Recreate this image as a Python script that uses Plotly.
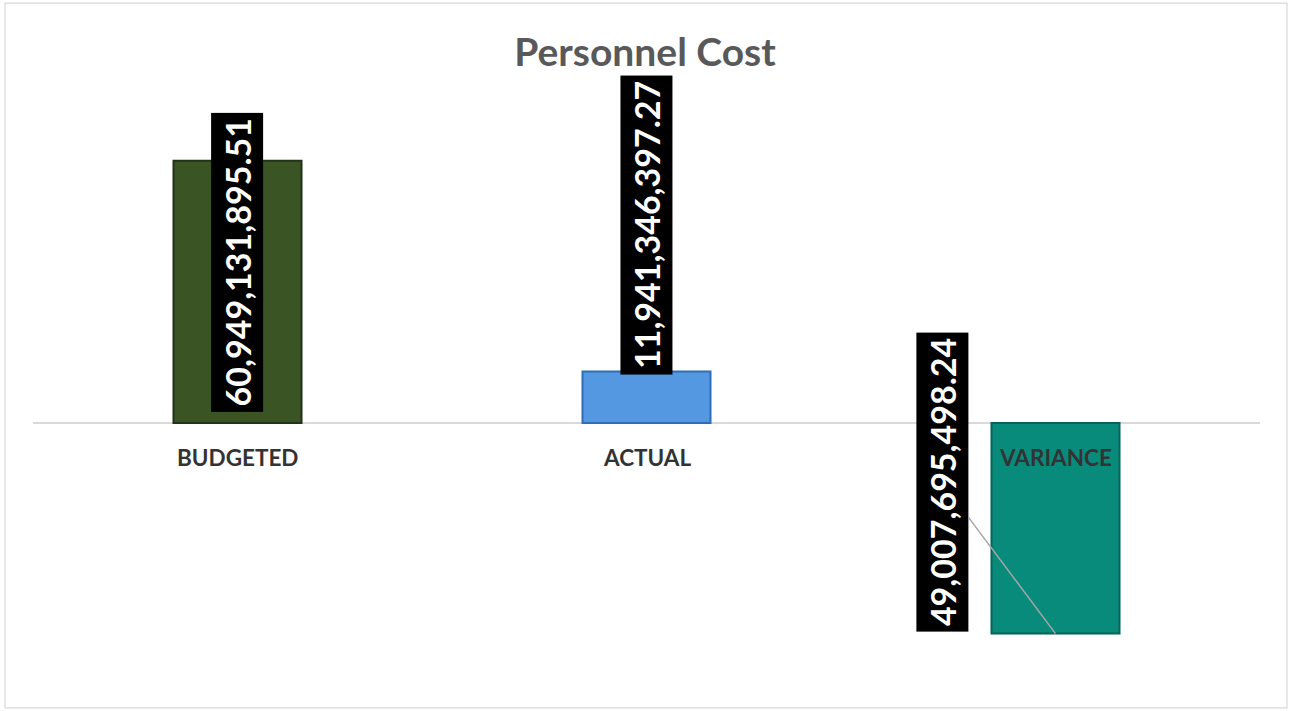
import plotly.graph_objects as go

categories = ["BUDGETED", "ACTUAL", "VARIANCE"]
values = [60949131895.51, 11941346397.27, -49007695498.24]
value_labels = ["60,949,131,895.51", "11,941,346,397.27", "49,007,695,498.24"]
bar_colors = ["#3A5424", "#5398E0", "#098B7C"]
edge_colors = ["#22331A", "#2F6DB5", "#056357"]
title_text = "Personnel Cost"

FONT = "Lato"

fig = go.Figure()
fig.add_trace(go.Bar(
    x=categories, y=values,
    marker=dict(color=bar_colors, line=dict(color=edge_colors, width=2)),
    hoverinfo="skip",
))

annotations = []
# category labels next to the zero axis
for c in categories:
    annotations.append(dict(
        x=c, y=0, xref="x", yref="y", text="<b>%s</b>" % c, showarrow=False,
        yanchor="middle", yshift=-35,
        font=dict(family=FONT, size=22.5, color="#333333"),
    ))

lab_font = dict(family=FONT, size=34, color="white")
# budgeted: inside base
annotations.append(dict(
    x=categories[0], y=0, xref="x", yref="y", text="<b>%s</b>" % value_labels[0],
    showarrow=False, textangle=-90, yanchor="bottom", yshift=10,
    bgcolor="black", borderpad=5, font=lab_font,
))
# actual: outside end
annotations.append(dict(
    x=categories[1], y=values[1], xref="x", yref="y", text="<b>%s</b>" % value_labels[1],
    showarrow=False, textangle=-90, yanchor="bottom", yshift=-4,
    bgcolor="black", borderpad=5, font=lab_font,
))
# variance: moved label with leader line
annotations.append(dict(
    x=categories[2], y=values[2], xref="x", yref="y", text="<b>%s</b>" % value_labels[2],
    showarrow=True, arrowhead=0, arrowwidth=1.5, arrowcolor="#A6A6A6",
    ax=-113, ay=-151, xanchor="center", yanchor="middle", standoff=0,
    textangle=-90, bgcolor="black", borderpad=5, font=lab_font,
))

fig.update_layout(
    width=1290, height=711,
    margin=dict(l=33, r=30, t=100, b=31),
    paper_bgcolor="white", plot_bgcolor="white",
    showlegend=False,
    bargap=0.687,
    title=dict(text="<b>%s</b>" % title_text, x=0.5, xanchor="center",
               y=1 - 52 / 711, yanchor="middle", yref="container",
               font=dict(family=FONT, size=39, color="#595959")),
    xaxis=dict(showticklabels=False, showgrid=False, showline=False, ticks="",
               fixedrange=True),
    yaxis=dict(range=[-59.8e9, 75.1e9], showticklabels=False, showgrid=False,
               zeroline=True, zerolinecolor="#D9D9D9", zerolinewidth=1.5,
               showline=False, ticks="", fixedrange=True),
    annotations=annotations,
    shapes=[dict(type="rect", xref="paper", yref="paper",
                 x0=-0.0228, x1=1.022, y0=-0.048, y1=1.167,
                 line=dict(color="#D9D9D9", width=1.2), layer="below")],
)

fig.write_html("out.html", config={"displayModeBar": False},
               post_script="document.body.style.margin='0';document.body.style.overflow='hidden';")
